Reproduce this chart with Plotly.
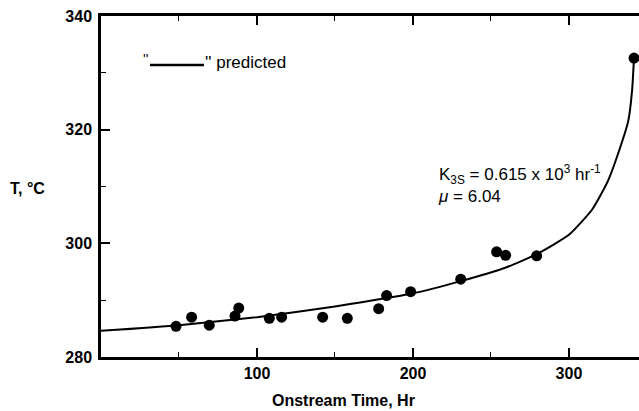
import plotly.graph_objects as go

# Measured data points (onstream time, temperature)
time_hr = [48.1, 58.1, 69.4, 85.9, 88.3, 107.9, 115.8, 142.1, 157.9, 178.0,
           183.1, 198.5, 230.6, 253.6, 259.4, 279.3, 341.7]
temp_c = [285.4, 287.0, 285.6, 287.2, 288.6, 286.8, 287.0, 287.0, 286.8, 288.5,
          290.8, 291.5, 293.7, 298.5, 297.9, 297.8, 332.6]

# Predicted curve
pred_time = [0, 50, 100, 150, 200, 230, 260, 280, 300, 315, 325, 333, 338, 340.5, 341.7]
pred_temp = [284.6, 285.6, 287.0, 288.9, 291.2, 293.3, 295.8, 298.2, 301.5, 306.0,
             311.0, 317.0, 321.5, 327.0, 332.6]

x_ticks = [100, 200, 300]
y_ticks = [280, 300, 320, 340]

FONT = "Liberation Sans"

W, H = 639, 411
# plot area spans page px 101..639 (x) and 16..357 (y)
PL, PT, PR, PB = 101, 16, 639, 357
PW, PH = PR - PL, PB - PT


def px(xp):
    return (xp - PL) / PW


def py(yp):
    return (PB - yp) / PH


fig = go.Figure()
fig.add_trace(go.Scatter(x=pred_time, y=pred_temp, mode="lines",
                         line=dict(color="black", width=2, shape="spline", smoothing=0.5),
                         showlegend=False, cliponaxis=False, hoverinfo="skip"))
fig.add_trace(go.Scatter(x=time_hr, y=temp_c, mode="markers",
                         marker=dict(color="black", size=11),
                         showlegend=False, cliponaxis=False, hoverinfo="skip"))

fig.update_layout(
    width=W, height=H,
    margin=dict(l=PL, r=W - PR, t=PT, b=H - PB),
    plot_bgcolor="white", paper_bgcolor="white",
    font=dict(family=FONT, color="black"),
    xaxis=dict(range=[0, 344.9], tickvals=x_ticks, ticktext=[str(v) for v in x_ticks],
               ticks="inside", ticklen=9, tickwidth=1.5, tickcolor="black",
               showline=True, linecolor="black", linewidth=2.5, mirror="ticks",
               showgrid=False, zeroline=False,
               tickfont=dict(family=FONT, size=16, color="black", weight="bold"),
               minor=dict(tickvals=[50, 150, 250], ticks="inside", ticklen=5,
                          tickwidth=1.2, tickcolor="black", showgrid=False)),
    yaxis=dict(range=[280, 340], tickvals=y_ticks, ticktext=[str(v) for v in y_ticks],
               ticks="inside", ticklen=9, tickwidth=1.5, tickcolor="black",
               showline=True, linecolor="black", linewidth=2.5, mirror=False,
               showgrid=False, zeroline=False, ticklabelstandoff=3,
               tickfont=dict(family=FONT, size=16, color="black", weight="bold"),
               minor=dict(tickvals=[290, 310, 330], ticks="inside", ticklen=5,
                          tickwidth=1.2, tickcolor="black", showgrid=False)),
    annotations=[
        dict(text="<b>Onstream Time, Hr</b>", xref="paper", yref="paper",
             x=px(343), y=py(401), showarrow=False,
             font=dict(family=FONT, size=16, color="black"), xanchor="center", yanchor="middle"),
        dict(text="<b>T, °C</b>", xref="paper", yref="paper",
             x=px(8), y=py(188), showarrow=False,
             font=dict(family=FONT, size=16, color="black"), xanchor="left", yanchor="middle"),
        dict(text="''", xref="paper", yref="paper",
             x=px(141), y=py(59), showarrow=False,
             font=dict(family=FONT, size=14, color="black"), xanchor="left", yanchor="middle"),
        dict(text="'' predicted", xref="paper", yref="paper",
             x=px(203), y=py(62), showarrow=False,
             font=dict(family=FONT, size=17, color="black"), xanchor="left", yanchor="middle"),
        dict(text="K<sub>3S</sub> = 0.615 x 10<sup>3</sup> hr<sup>-1</sup><br><i>μ</i> = 6.04",
             xref="paper", yref="paper", align="left",
             x=px(436), y=py(160), showarrow=False,
             font=dict(family=FONT, size=17, color="black"), xanchor="left", yanchor="top"),
    ],
    shapes=[
        dict(type="line", xref="paper", yref="paper",
             x0=px(150), x1=px(204), y0=py(65), y1=py(65),
             line=dict(color="black", width=2.5)),
    ],
)

fig.write_html("out.html",
               config={"displayModeBar": False},
               post_script="document.body.style.margin='0';"
                           "document.body.style.overflow='hidden';"
                           "window.scrollTo(0,0);")
